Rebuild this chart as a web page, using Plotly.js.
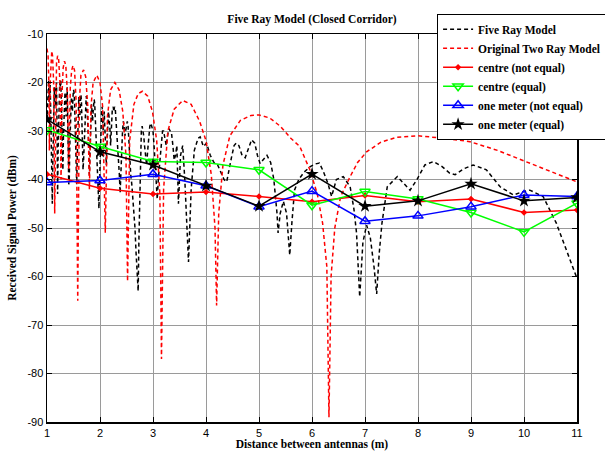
<!DOCTYPE html>
<html>
<head>
<meta charset="utf-8">
<script src="https://cdn.plot.ly/plotly-3.0.1.min.js"></script>
<style>html,body{margin:0;padding:0;background:#fff;}#chart{width:605px;height:451px;}</style>
</head>
<body>
<div id="chart"></div>
<script>
// Measured distances (m)
const distances = [1, 2, 3, 4, 5, 6, 7, 8, 9, 10, 11];
const centreNotEqual = [-38.9, -41.8, -43.0, -42.6, -43.5, -44.6, -43.3, -44.6, -44.0, -46.8, -46.3];
const centreEqual = [-29.8, -33.2, -36.3, -36.5, -38.0, -45.3, -42.5, -44.0, -46.8, -50.8, -44.9];
const oneMeterNotEqual = [-40.6, -40.2, -38.9, -41.3, -45.6, -42.4, -48.6, -47.5, -45.6, -43.2, -43.5];
const oneMeterEqual = [-27.6, -34.3, -37.0, -41.3, -45.5, -38.9, -45.5, -44.4, -40.9, -44.4, -43.7];

// Five ray model curve
const fiveRayX = [1.000,1.010,1.020,1.030,1.040,1.050,1.060,1.070,1.080,1.090,1.100,1.110,1.120,1.130,1.140,1.150,1.160,1.170,1.180,1.190,1.200,1.210,1.220,1.230,1.240,1.250,1.260,1.270,1.280,1.290,1.300,1.310,1.320,1.330,1.340,1.350,1.360,1.370,1.380,1.390,1.400,1.410,1.420,1.430,1.440,1.450,1.460,1.470,1.480,1.490,1.500,1.510,1.520,1.530,1.540,1.550,1.560,1.570,1.580,1.590,1.600,1.610,1.620,1.630,1.640,1.650,1.660,1.670,1.680,1.690,1.700,1.710,1.720,1.730,1.740,1.750,1.760,1.770,1.780,1.790,1.800,1.810,1.820,1.830,1.840,1.850,1.860,1.870,1.880,1.890,1.900,1.910,1.920,1.930,1.940,1.950,1.960,1.970,1.980,1.990,2.000,2.010,2.020,2.030,2.040,2.050,2.060,2.070,2.080,2.090,2.100,2.110,2.120,2.130,2.140,2.150,2.160,2.170,2.180,2.190,2.200,2.210,2.220,2.230,2.240,2.250,2.260,2.275,2.290,2.305,2.320,2.335,2.350,2.365,2.380,2.395,2.410,2.425,2.440,2.455,2.470,2.485,2.500,2.515,2.530,2.545,2.560,2.580,2.600,2.620,2.640,2.660,2.680,2.700,2.720,2.735,2.750,2.765,2.780,2.795,2.810,2.825,2.840,2.860,2.880,2.900,2.920,2.940,2.960,2.980,3.000,3.020,3.040,3.060,3.080,3.100,3.120,3.140,3.160,3.180,3.200,3.225,3.250,3.275,3.300,3.325,3.350,3.375,3.400,3.425,3.450,3.480,3.520,3.560,3.600,3.670,3.720,3.780,3.850,3.890,3.950,4.010,4.080,4.150,4.220,4.280,4.340,4.390,4.440,4.480,4.530,4.570,4.620,4.680,4.740,4.800,4.860,4.920,4.970,5.020,5.080,5.150,5.220,5.280,5.340,5.360,5.400,5.460,5.520,5.580,5.620,5.670,5.750,5.850,5.960,6.060,6.140,6.220,6.300,6.370,6.460,6.590,6.720,6.790,6.840,6.900,6.960,7.030,7.100,7.170,7.220,7.270,7.320,7.420,7.610,7.740,7.850,7.980,8.130,8.290,8.450,8.600,8.700,8.860,9.040,9.290,9.550,9.800,9.950,10.110,10.360,10.610,10.800,11.000];
const fiveRayY = [-28,-24,-21,-19.5,-24,-22,-20.5,-26,-33,-40,-45,-36,-30,-24,-21,-22,-25,-22,-20,-30,-43,-34,-27,-22,-20,-21,-19.5,-24,-30,-35,-38,-31,-26,-23,-22,-24,-27,-23,-21,-27,-35,-41,-40,-33,-29,-25,-23,-24,-26,-23,-21.5,-22,-24,-28,-33,-37,-41,-36,-30,-26,-23,-25,-27,-24,-22.5,-24,-28,-33,-38,-36,-33,-28,-25,-23,-22.8,-24,-26,-28,-31,-35,-39,-35,-30,-27,-24.5,-26,-28,-26,-24,-23.5,-24.3,-27,-32,-35,-37,-40,-43,-45,-46,-41,-36,-31,-28,-26,-25,-27,-30,-28,-26,-29,-34,-37,-37,-33,-29,-27,-26,-27,-28,-30,-33,-30,-27,-26,-25.5,-25,-26,-25,-25.7,-28,-31,-33,-36,-39,-42.8,-38,-33,-30,-28,-29,-31,-30,-28.8,-28,-29,-32,-36,-39,-41,-44,-46,-50,-55,-59,-63,-52,-43,-36,-30,-29,-29.8,-31,-33,-35,-37,-34,-31,-29,-28.4,-29,-30,-33,-36,-40,-44,-40,-37,-34,-31,-30,-30,-32,-33,-31,-29.5,-30,-30.5,-33,-36,-35,-33,-45,-35,-33,-40,-57,-42,-34,-31.5,-31.2,-33.2,-32.5,-35,-36.5,-37,-38.5,-40,-40.5,-37.5,-35.5,-33,-32.5,-33,-35,-35.5,-33.5,-31.8,-32.5,-35,-36.7,-36,-35,-36.5,-40,-47,-51,-47,-44.5,-47,-55.6,-49,-42.2,-40,-38.5,-37.4,-36.8,-36.6,-38.5,-40.8,-43.5,-40,-39.4,-41.5,-46,-51,-64.2,-53,-49.4,-52,-58,-63.6,-55,-49,-41.5,-39.4,-41,-42.2,-40,-37,-36.3,-37.3,-38.7,-39,-37.8,-37,-38,-41.5,-43.2,-42.6,-42.2,-43.5,-49,-54.5,-60.4];

// Original two ray model curve
const twoRayX = [1.000,1.020,1.035,1.045,1.060,1.075,1.090,1.105,1.125,1.145,1.165,1.180,1.200,1.220,1.245,1.265,1.285,1.305,1.330,1.355,1.385,1.410,1.440,1.465,1.490,1.520,1.550,1.580,1.610,1.640,1.690,1.730,1.770,1.800,1.830,1.870,1.940,2.000,2.050,2.100,2.140,2.200,2.280,2.360,2.430,2.490,2.520,2.560,2.640,2.720,2.800,2.900,2.990,3.070,3.130,3.160,3.200,3.280,3.400,3.560,3.720,3.880,4.000,4.100,4.170,4.200,4.240,4.320,4.450,4.650,4.850,5.000,5.200,5.400,5.600,5.770,5.960,6.100,6.200,6.280,6.320,6.360,6.430,6.540,6.720,6.860,7.030,7.300,7.600,8.000,8.500,8.980,9.500,9.970,10.500,11.000];
const twoRayY = [-13,-14.5,-20,-34,-20,-14.5,-13.5,-14.5,-20,-47,-22,-16,-14.5,-15.3,-20,-40,-22,-17,-15.6,-16.5,-22,-38,-21,-17.5,-16.5,-17.5,-24,-65,-24,-18.5,-17.4,-18.8,-25,-42,-25,-20,-18.5,-20,-25,-51,-27,-21.5,-20,-21.5,-26,-35,-61,-32,-24.5,-22.3,-21.8,-22.8,-26,-32,-43,-77,-42,-30,-25.5,-23.7,-24.5,-28,-32,-39,-50,-66,-47,-37,-31,-27.8,-26.8,-26.7,-27.3,-29,-31.5,-33.2,-38,-43,-49,-58,-89,-60,-50,-43.5,-39.4,-36.5,-34.3,-32.3,-31.3,-31,-31.5,-32.2,-34,-36,-38.3,-40.5];

const xTicks = [1,2,3,4,5,6,7,8,9,10,11];
const yTicks = [-90,-80,-70,-60,-50,-40,-30,-20,-10];

const serif = 'Liberation Serif, Times New Roman, serif';
const sans = 'Liberation Sans, Arial, sans-serif';

const traces = [
  {x: fiveRayX, y: fiveRayY, mode: 'lines', name: 'Five Ray Model',
   line: {color: '#000000', width: 1.5, dash: '4px,3px'}},
  {x: twoRayX, y: twoRayY, mode: 'lines', name: 'Original Two Ray Model',
   line: {color: '#ff0000', width: 1.5, dash: '4px,3px'}},
  {x: distances, y: centreNotEqual, mode: 'lines+markers', name: 'centre (not equal)',
   line: {color: '#ff0000', width: 1.5}, marker: {symbol: 'diamond', size: 5, color: '#ff0000'}},
  {x: distances, y: centreEqual, mode: 'lines+markers', name: 'centre (equal)',
   line: {color: '#00ff00', width: 1.5}, marker: {symbol: 'triangle-down-open', size: 9, color: '#00ff00', line: {width: 1.5}}},
  {x: distances, y: oneMeterNotEqual, mode: 'lines+markers', name: 'one meter (not equal)',
   line: {color: '#0000ff', width: 1.5}, marker: {symbol: 'triangle-up-open', size: 9, color: '#0000ff', line: {width: 1.5}}},
  {x: distances, y: oneMeterEqual, mode: 'lines+markers', name: 'one meter (equal)',
   line: {color: '#000000', width: 1.5}, marker: {symbol: 'star', size: 10, color: '#000000'}}
];

const axisCommon = {
  showgrid: true, gridcolor: '#9a9a9a', gridwidth: 1,
  zeroline: false, showline: true, linecolor: '#000000', linewidth: 1.5,
  mirror: 'ticks', ticks: 'inside', ticklen: 5, tickcolor: '#000000',
  tickfont: {family: sans, size: 11, color: '#000000'}
};

const layout = {
  width: 605, height: 451,
  margin: {l: 47, r: 28, t: 34, b: 29, autoexpand: false},
  paper_bgcolor: '#ffffff', plot_bgcolor: '#ffffff',
  showlegend: true,
  title: {text: '<b>Five Ray Model (Closed Corridor)</b>', font: {family: serif, size: 11.5, color: '#000'},
          x: 0.5, xref: 'paper', y: 0.958, yref: 'container', yanchor: 'middle'},
  xaxis: Object.assign({}, axisCommon, {
    range: [1, 11], tickvals: xTicks, ticktext: xTicks.map(String),
    title: {text: '<b>Distance between antennas (m)</b>', font: {family: serif, size: 11.5, color: '#000'}, standoff: 2}
  }),
  yaxis: Object.assign({}, axisCommon, {
    range: [-90, -10], tickvals: yTicks, ticktext: yTicks.map(String),
    title: {text: '<b>Received Signal Power (dBm)</b>', font: {family: serif, size: 11.5, color: '#000'}, standoff: 8}
  }),
  legend: {
    x: 0.736, xref: 'paper', xanchor: 'left', y: 1.052, yref: 'paper', yanchor: 'top',
    bgcolor: '#ffffff', bordercolor: '#000000', borderwidth: 1,
    font: {family: serif, size: 11.5, color: '#000', weight: 'bold'}, tracegroupgap: 0, itemwidth: 30
  }
};

Plotly.newPlot('chart', traces, layout, {displayModeBar: false, staticPlot: true});
</script>
</body>
</html>
